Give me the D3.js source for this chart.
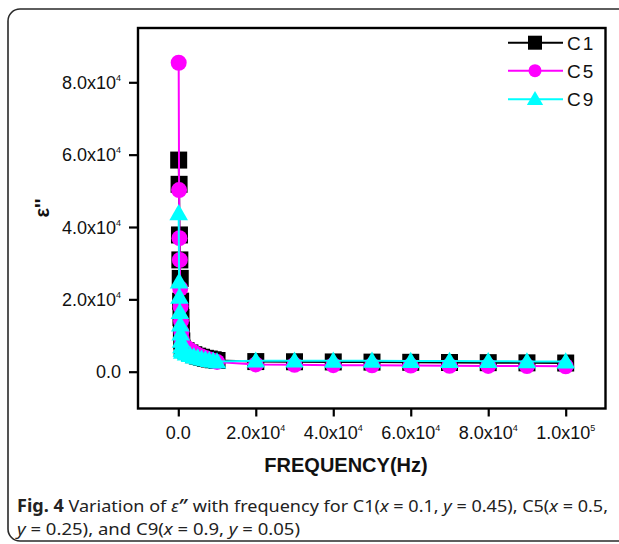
<!DOCTYPE html>
<html>
<head>
<meta charset="utf-8">
<script src="https://cdn.jsdelivr.net/npm/d3@7"></script>
<style>
  html, body { margin: 0; padding: 0; background: #fff; }
  svg { display: block; }
</style>
</head>
<body>
<svg id="chart" width="619" height="544"></svg>
<script>
// ---- data ----
const freq = [100,200,300,400,500,600,700,800,900,1000,2000,3000,4000,5000,6000,7000,8000,9000,10000,20000,30000,40000,50000,60000,70000,80000,90000,100000];
const seriesNames = ["C1", "C5", "C9"];
const c1 = [58500,51800,37800,30900,25800,19500,15000,11500,8500,6500,5800,5200,4700,4300,4000,3700,3500,3300,3100,2800,2750,2700,2650,2600,2550,2500,2450,2400];
const c5 = [85400,50200,36900,30900,23000,18000,14000,11000,9000,7500,6800,6000,5300,4700,4200,3800,3400,3000,2700,2000,1900,1800,1750,1700,1650,1600,1550,1500];
const c9 = [43800,24900,20700,16500,13000,10500,8500,7000,6000,5500,5000,4600,4200,3900,3600,3400,3200,3000,2800,3050,3050,3000,3000,2950,2950,2900,2850,2800];
const xTicks = [0, 20000, 40000, 60000, 80000, 100000];
const xTickLabels = [["0.0",""],["2.0x10","4"],["4.0x10","4"],["6.0x10","4"],["8.0x10","4"],["1.0x10","5"]];
const yTicks = [0, 20000, 40000, 60000, 80000];
const yTickLabels = [["0.0",""],["2.0x10","4"],["4.0x10","4"],["6.0x10","4"],["8.0x10","4"]];

const colors = {C1: "#000000", C5: "#ff00ff", C9: "#00ffff"};
const shapes = {C1: "square", C5: "circle", C9: "triangle"};
const seriesValues = {C1: c1, C5: c5, C9: c9};

// ---- layout ----
const svg = d3.select("#chart");
const box = {left: 138, right: 605.5, top: 28, bottom: 408.5};
const x = d3.scaleLinear().domain([0, 100000]).range([178.3, 565.7]);
const y = d3.scaleLinear().domain([0, 80000]).range([371.7, 82.3]);
const FONT = "'Liberation Sans', Arial, Helvetica, sans-serif";

// outer figure frame
svg.append("rect")
  .attr("x", 8).attr("y", 9).attr("width", 720).attr("height", 532)
  .attr("rx", 12).attr("ry", 12)
  .attr("fill", "none").attr("stroke", "#2a2a2a").attr("stroke-width", 1.6);

// axes
const xAxis = d3.axisBottom(x).tickValues(xTicks).tickSize(8).tickFormat("");
const gx = svg.append("g").attr("transform", `translate(0,${box.bottom})`).call(xAxis);
gx.select(".domain").remove();
gx.selectAll(".tick line").attr("stroke", "#000").attr("stroke-width", 2.2);

const yAxis = d3.axisLeft(y).tickValues(yTicks).tickSize(9).tickFormat("");
const gy = svg.append("g").attr("transform", `translate(${box.left},0)`).call(yAxis);
gy.select(".domain").remove();
gy.selectAll(".tick line").attr("stroke", "#000").attr("stroke-width", 2.2);

// tick labels
const xl = svg.append("g").attr("font-family", FONT).attr("font-size", 18).attr("fill", "#111");
xTicks.forEach((v, i) => {
  const t = xl.append("text").attr("x", x(v)).attr("y", 439).attr("text-anchor", "middle");
  t.append("tspan").text(xTickLabels[i][0]);
  if (xTickLabels[i][1]) t.append("tspan").attr("font-size", 9).attr("dy", -8).text(xTickLabels[i][1]);
});
const yl = svg.append("g").attr("font-family", FONT).attr("font-size", 18).attr("fill", "#111");
yTicks.forEach((v, i) => {
  const t = yl.append("text").attr("x", 121).attr("y", y(v) + 6.5).attr("text-anchor", "end");
  t.append("tspan").text(yTickLabels[i][0]);
  if (yTickLabels[i][1]) t.append("tspan").attr("font-size", 9).attr("dy", -8).text(yTickLabels[i][1]);
});

// axis titles
svg.append("text").attr("x", 346).attr("y", 472).attr("text-anchor", "middle")
  .attr("font-family", FONT).attr("font-size", 20).attr("font-weight", "bold").attr("fill", "#111")
  .text("FREQUENCY(Hz)");
svg.append("text").attr("transform", "translate(49,208) rotate(-90)").attr("text-anchor", "middle")
  .attr("font-family", FONT).attr("font-size", 20).attr("font-weight", "bold").attr("fill", "#111")
  .text("ε''");

// series
const symbolFor = (name, size) => {
  const s = shapes[name];
  const type = s === "square" ? d3.symbolSquare : s === "circle" ? d3.symbolCircle : d3.symbolTriangle;
  return d3.symbol().type(type).size(size)();
};
const markSize = {C1: 17 * 17, C5: Math.PI * 8 * 8, C9: 150};
const line = d3.line().x(d => x(d[0])).y(d => y(d[1]));
const plot = svg.append("g");
seriesNames.forEach(name => {
  const pts = freq.map((f, i) => [f, seriesValues[name][i]]);
  const g = plot.append("g");
  g.append("path").attr("d", line(pts)).attr("fill", "none")
    .attr("stroke", colors[name]).attr("stroke-width", 2);
  g.selectAll("path.m").data(pts).enter().append("path").attr("class", "m")
    .attr("d", symbolFor(name, markSize[name]))
    .attr("transform", d => `translate(${x(d[0])},${y(d[1]) + (name === "C9" ? 1.5 : 0)})`)
    .attr("fill", colors[name]);
});

// plot box
svg.append("rect").attr("x", box.left).attr("y", box.top)
  .attr("width", box.right - box.left).attr("height", box.bottom - box.top)
  .attr("fill", "none").attr("stroke", "#000").attr("stroke-width", 2.4);

// legend
const legY = [42.7, 70.7, 99.3];
const legSize = {C1: 14 * 14, C5: Math.PI * 6.5 * 6.5, C9: 115};
const leg = svg.append("g");
seriesNames.forEach((name, i) => {
  const yy = legY[i];
  leg.append("line").attr("x1", 508).attr("x2", 563).attr("y1", yy).attr("y2", yy)
    .attr("stroke", colors[name]).attr("stroke-width", 2);
  leg.append("path").attr("d", symbolFor(name, legSize[name]))
    .attr("transform", `translate(535,${yy + (name === "C9" ? 1 : 0)})`).attr("fill", colors[name]);
  leg.append("text").attr("x", 567).attr("y", yy + 7)
    .attr("font-family", FONT).attr("font-size", 19).attr("letter-spacing", 2).attr("fill", "#111")
    .text(name);
});

// caption
const CAP = "'Noto Sans', 'Open Sans', sans-serif";
const cap1 = svg.append("text").attr("x", 17).attr("y", 512)
  .attr("font-family", CAP).attr("font-size", 17).attr("fill", "#222")
  .attr("textLength", 591).attr("lengthAdjust", "spacingAndGlyphs");
cap1.append("tspan").attr("font-weight", "bold").text("Fig. 4");
cap1.append("tspan").text(" Variation of ");
cap1.append("tspan").attr("font-style", "italic").text("ε");
cap1.append("tspan").attr("font-weight", "bold").text("″");
cap1.append("tspan").text(" with frequency for C1(");
cap1.append("tspan").attr("font-style", "italic").text("x");
cap1.append("tspan").text(" = 0.1, ");
cap1.append("tspan").attr("font-style", "italic").text("y");
cap1.append("tspan").text(" = 0.45), C5(");
cap1.append("tspan").attr("font-style", "italic").text("x");
cap1.append("tspan").text(" = 0.5,");

const cap2 = svg.append("text").attr("x", 17).attr("y", 535)
  .attr("font-family", CAP).attr("font-size", 17).attr("fill", "#222")
  .attr("textLength", 283).attr("lengthAdjust", "spacingAndGlyphs");
cap2.append("tspan").attr("font-style", "italic").text("y");
cap2.append("tspan").text(" = 0.25), and C9(");
cap2.append("tspan").attr("font-style", "italic").text("x");
cap2.append("tspan").text(" = 0.9, ");
cap2.append("tspan").attr("font-style", "italic").text("y");
cap2.append("tspan").text(" = 0.05)");
</script>
</body>
</html>
